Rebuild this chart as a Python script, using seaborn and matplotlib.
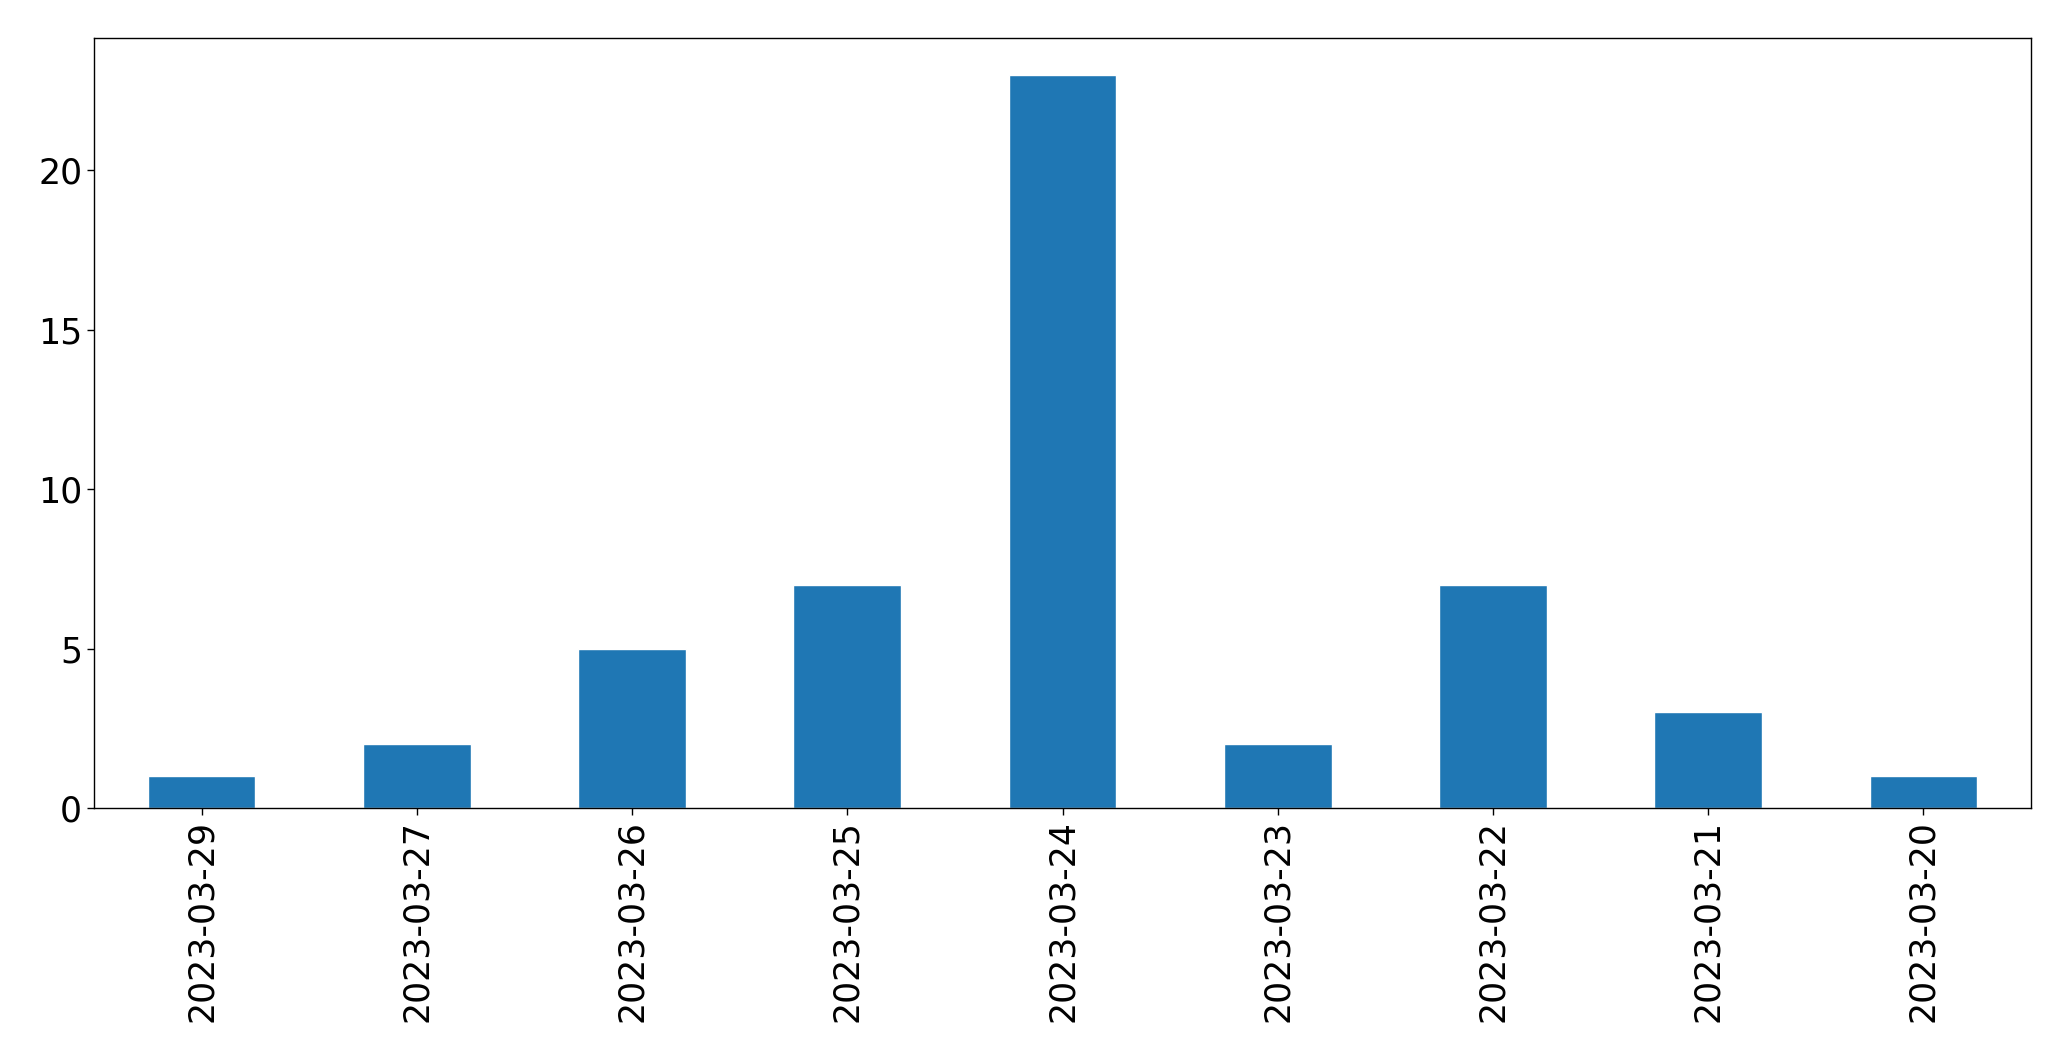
import pandas as pd
import seaborn as sns
import matplotlib.pyplot as plt

# daily counts, in the order shown on the chart
dates = ["2023-03-29", "2023-03-27", "2023-03-26", "2023-03-25", "2023-03-24",
         "2023-03-23", "2023-03-22", "2023-03-21", "2023-03-20"]
counts = [1, 2, 5, 7, 23, 2, 7, 3, 1]

df = pd.DataFrame({"date": dates, "count": counts})

sns.set_style("white")
plt.rcParams["font.family"] = ["DejaVu Sans"]
plt.rcParams["axes.edgecolor"] = "black"
plt.rcParams["text.color"] = "black"
plt.rcParams["xtick.color"] = "black"
plt.rcParams["ytick.color"] = "black"

fig = plt.figure(figsize=(20.71, 10.61), dpi=100)
ax = fig.add_axes([0.0454, 0.2385, 0.9353, 0.7255])

sns.barplot(data=df, x="date", y="count", order=dates, color="#1f77b4",
            saturation=1, width=0.5, ax=ax)

ax.set_xlim(-0.5, len(dates) - 0.5)
ax.set_ylim(0, max(counts) * 1.05)
ax.set_yticks([0, 5, 10, 15, 20])
ax.set_xlabel("")
ax.set_ylabel("")
ax.tick_params(axis="both", labelsize=25, length=5, width=1, direction="out",
               bottom=True, left=True, color="black", labelcolor="black")
plt.setp(ax.get_xticklabels(), rotation=90)
for s in ax.spines.values():
    s.set_visible(True)
    s.set_linewidth(1)

plt.savefig("out.png", dpi=100)
